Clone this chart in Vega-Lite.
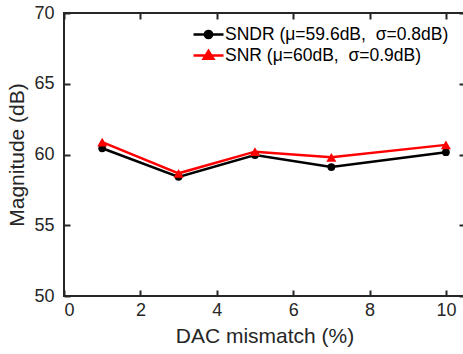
{
  "$schema": "https://vega.github.io/schema/vega-lite/v6.json",
  "width": 401,
  "height": 283,
  "autosize": {"type": "none"},
  "padding": {"left": 64, "top": 13, "right": 0, "bottom": 58},
  "background": "white",
  "config": {
    "font": "Liberation Sans",
    "view": {"stroke": "#262626", "strokeWidth": 2}
  },
  "data": {
    "values": [
      {"x": 1, "y": 60.44, "s": "SNDR (μ=59.6dB,\u00a0 σ=0.8dB)"},
      {"x": 3, "y": 58.42, "s": "SNDR (μ=59.6dB,\u00a0 σ=0.8dB)"},
      {"x": 5, "y": 59.96, "s": "SNDR (μ=59.6dB,\u00a0 σ=0.8dB)"},
      {"x": 7, "y": 59.11, "s": "SNDR (μ=59.6dB,\u00a0 σ=0.8dB)"},
      {"x": 10, "y": 60.16, "s": "SNDR (μ=59.6dB,\u00a0 σ=0.8dB)"},
      {"x": 1, "y": 60.88, "s": "SNR (μ=60dB,\u00a0 σ=0.9dB)"},
      {"x": 3, "y": 58.67, "s": "SNR (μ=60dB,\u00a0 σ=0.9dB)"},
      {"x": 5, "y": 60.2, "s": "SNR (μ=60dB,\u00a0 σ=0.9dB)"},
      {"x": 7, "y": 59.8, "s": "SNR (μ=60dB,\u00a0 σ=0.9dB)"},
      {"x": 10, "y": 60.68, "s": "SNR (μ=60dB,\u00a0 σ=0.9dB)"}
    ]
  },
  "encoding": {
    "color": {"field": "s", "type": "nominal", "scale": {"range": ["#000000", "#ff0000"]},
      "legend": {
        "orient": "none",
        "legendX": 133,
        "legendY": 10,
        "padding": 0,
        "title": null,
        "labelFont": "Liberation Sans",
        "labelFontSize": 17.5,
        "labelColor": "#000000",
        "labelLimit": 0,
        "labelOffset": 5,
        "symbolSize": 400,
        "rowPadding": -2,
        "symbolStrokeWidth": 2.5,
        "encode": {
          "symbols": {
            "update": {
              "shape": {"signal": "indexof(datum.value, 'SNDR') == 0 ? 'M-1.5,0H1.5M0.36,0A0.36,0.36 0 1,1 -0.36,0A0.36,0.36 0 1,1 0.36,0Z' : 'M-1.5,0H1.5M0,-0.45L0.48,0.33L-0.48,0.33Z'"},
              "fill": {"signal": "indexof(datum.value, 'SNDR') == 0 ? '#000000' : '#ff0000'"},
              "stroke": {"signal": "indexof(datum.value, 'SNDR') == 0 ? '#000000' : '#ff0000'"},
              "strokeWidth": {"value": 2.5},
              "opacity": {"value": 1}
            }
          }
        }
      }
    }
  },
  "layer": [
    {
      "mark": {"type": "line", "strokeWidth": 2.5},
      "encoding": {
        "x": {"field": "x", "type": "quantitative", "scale": {"domain": [0, 10.5], "nice": false},
              "axis": {"tickCount": 6, "title": "DAC mismatch (%)", "orient": "bottom", "offset": -6, "zindex": 1,
                       "domainOpacity": 0, "gridOpacity": 0, "ticks": true, "tickColor": "#262626", "tickWidth": 2, "tickSize": 6,
                       "labelPadding": 5, "titlePadding": 6, "labelFontSize": 18, "titleFontSize": 21, "titleFontWeight": "normal",
                       "labelColor": "#262626", "titleColor": "#262626", "labelFont": "Liberation Sans", "titleFont": "Liberation Sans"}},
        "y": {"field": "y", "type": "quantitative", "scale": {"domain": [50, 70], "nice": false},
              "axis": {"tickCount": 4, "title": "Magnitude (dB)", "orient": "left", "offset": -6, "zindex": 1,
                       "domainOpacity": 0, "gridOpacity": 0, "ticks": true, "tickColor": "#262626", "tickWidth": 2, "tickSize": 6,
                       "labelPadding": 10, "titlePadding": 6, "labelFontSize": 18, "titleFontSize": 21, "titleFontWeight": "normal",
                       "labelColor": "#262626", "titleColor": "#262626", "labelFont": "Liberation Sans", "titleFont": "Liberation Sans"}}
      }
    },
    {
      "mark": {"type": "point", "filled": true, "opacity": 1},
      "encoding": {
        "x": {"field": "x", "type": "quantitative",
              "axis": {"tickCount": 6, "orient": "top", "offset": -6, "labels": false, "title": null, "zindex": 1,
                       "domainOpacity": 0, "gridOpacity": 0, "ticks": true, "tickColor": "#262626", "tickWidth": 2, "tickSize": 6}},
        "y": {"field": "y", "type": "quantitative",
              "axis": {"tickCount": 4, "orient": "right", "offset": -6, "labels": false, "title": null, "zindex": 1,
                       "domainOpacity": 0, "gridOpacity": 0, "ticks": true, "tickColor": "#262626", "tickWidth": 2, "tickSize": 6}},
        "shape": {"field": "s", "type": "nominal", "scale": {"range": ["circle", "triangle-up"]}, "legend": null},
        "size": {"field": "s", "type": "nominal", "scale": {"range": [60, 100]}, "legend": null}
      }
    }
  ]
}
